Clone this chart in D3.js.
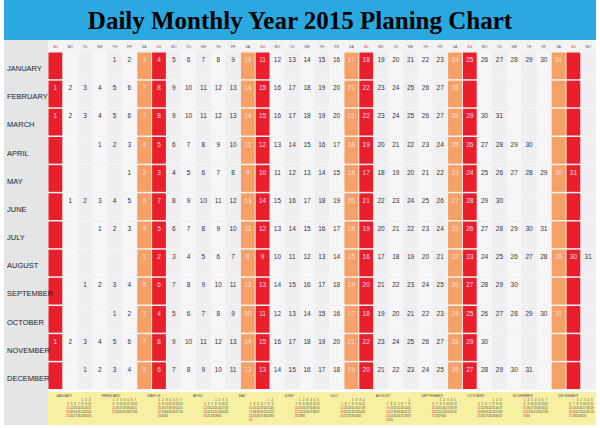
<!DOCTYPE html><html><head><meta charset="utf-8">
<script src="https://cdn.jsdelivr.net/npm/d3@7"></script>
<style>body{margin:0;background:#fff}</style></head><body>
<svg id="c" width="600" height="428"></svg>
<script>
const months=["JANUARY","FEBRUARY","MARCH","APRIL","MAY","JUNE","JULY","AUGUST","SEPTEMBER","OCTOBER","NOVEMBER","DECEMBER"];
const startDay=[4,0,0,3,5,1,3,6,2,4,0,2];
const monthDays=[31,28,31,30,31,30,31,31,30,31,30,31];
const weekdays=["SU","MO","TU","WE","TH","FR","SA"];
const nCols=37;
const svg=d3.select("#c");
svg.append("rect").attr("x",4).attr("y",0).attr("width",592).attr("height",40).attr("fill","#29a9df");
svg.append("text").attr("x",300).attr("y",29).attr("text-anchor","middle").attr("font-family","Liberation Serif").attr("font-weight","bold").attr("font-size",25).text("Daily Monthly Year 2015 Planing Chart");
svg.append("rect").attr("x",4).attr("y",40).attr("width",44).attr("height",385).attr("fill","#e4e5e7");
const x=d3.scaleBand().domain(d3.range(nCols)).range([48,48+nCols*14.8]);
const y=d3.scaleBand().domain(d3.range(12)).range([52,390]);
svg.append("rect").attr("x",48).attr("y",40).attr("width",548).attr("height",350).attr("fill","#f3f3f5");
const colColor=c=>c%7===0?"#e9202b":c%7===6?"#f5a064":null;
months.forEach((m,mi)=>{
  d3.range(nCols).forEach(c=>{
    const col=colColor(c);
    svg.append("rect").attr("x",x(c)+0.5).attr("y",y(mi)+0.5).attr("width",x.bandwidth()-1).attr("height",y.bandwidth()-1.5)
      .attr("fill",col||(c%2?"#f6f6f8":"#efeff2"));
  });
  svg.append("text").attr("x",7).attr("y",y(mi)+y.bandwidth()/2+5).attr("font-family","Liberation Sans Narrow, Liberation Sans").attr("font-size",7.5).attr("fill","#222").text(m);
  d3.range(monthDays[mi]).forEach(d=>{
    const c=startDay[mi]+d; if(c>=nCols)return;
    svg.append("text").attr("x",x(c)+x.bandwidth()/2).attr("y",y(mi)+10).attr("text-anchor","middle")
      .attr("font-family","Liberation Sans").attr("font-size",6.5).attr("fill",colColor(c)?"#fde":"#333").text(d+1);
  });
});
d3.range(nCols).forEach(c=>{
  svg.append("text").attr("x",x(c)+x.bandwidth()/2).attr("y",48).attr("text-anchor","middle").attr("font-family","Liberation Sans")
   .attr("font-size",3.5).attr("fill",c%7===0?"#e9202b":"#555").text(weekdays[c%7]);
});
svg.append("rect").attr("x",48).attr("y",392).attr("width",548).attr("height",33).attr("fill","#f7f0a3");
const mw=548/12;
months.forEach((m,mi)=>{
  const x0=48+mi*mw;
  svg.append("text").attr("x",x0+8).attr("y",397).attr("font-family","Liberation Sans").attr("font-size",3.5).attr("fill","#555").text(m);
  d3.range(monthDays[mi]).forEach(d=>{
    const p=startDay[mi]+d, wc=p%7, wr=Math.floor(p/7);
    svg.append("text").attr("x",x0+20+wc*3.6).attr("y",401+wr*4).attr("text-anchor","middle").attr("font-family","Liberation Sans")
      .attr("font-size",3).attr("fill",wc===0?"#e9202b":"#444").text(d+1);
  });
});
</script></body></html>
